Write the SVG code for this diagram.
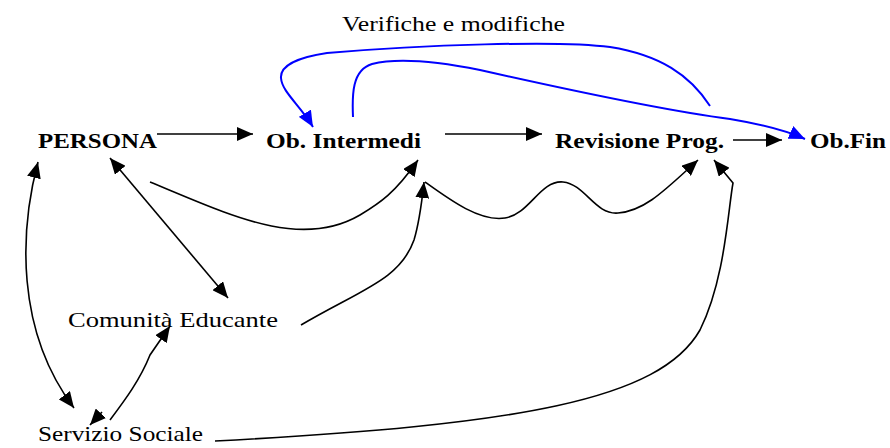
<svg xmlns="http://www.w3.org/2000/svg" width="890" height="448" viewBox="0 0 890 448">
<style>
.lbl{font-family:"Liberation Serif","Times New Roman",serif;font-size:21px;fill:#000}
.b{font-weight:bold;font-size:22px}
.c{fill:none;stroke:#000;stroke-width:1.6}
.blue{fill:none;stroke:#0000ff;stroke-width:2}
</style>
<defs>
<marker id="ah" markerUnits="userSpaceOnUse" markerWidth="17" markerHeight="14" refX="16" refY="7" orient="auto-start-reverse" viewBox="0 0 17 14">
<path d="M0,0 L16,7 L0,14 z" fill="#000"/>
</marker>
<marker id="ahb" markerUnits="userSpaceOnUse" markerWidth="17" markerHeight="14" refX="16" refY="7" orient="auto-start-reverse" viewBox="0 0 17 14">
<path d="M0,0 L16,7 L0,14 z" fill="#0000ff"/>
</marker>
</defs>
<rect width="890" height="448" fill="#fff"/>
<g id="connectors">
<path class="c" d="M157,134 L253,134" marker-end="url(#ah)"/>
<path class="c" d="M445,134 L542,134" marker-end="url(#ah)"/>
<path class="c" d="M733,140 L782,140" marker-end="url(#ah)"/>
<path class="c" d="M110,158 L228,298" marker-start="url(#ah)" marker-end="url(#ah)"/>
<path class="c" d="M150,182 C230,215 300,250 360,215 C380,203 395,193 418,160" marker-end="url(#ah)"/>
<path class="c" d="M301,325 C360,290 400,280 414,240 C420,220 422,200 424,182" marker-end="url(#ah)"/>
<path class="c" d="M425,182 C450,200 480,222 505,218 C530,214 540,180 563,182 C585,184 595,215 618,213 C645,211 665,190 698,160" marker-end="url(#ah)"/>
<path class="c" d="M215,441 C520,425 660,400 700,330 C725,280 728,210 733,183 L714,160" marker-end="url(#ah)"/>
<path class="c" d="M38,162 C20,230 15,330 74,408" marker-start="url(#ah)" marker-end="url(#ah)"/>
<path class="c" d="M90,425 L102,412 M110,420 C125,400 140,380 150,355 L170,326" marker-start="url(#ah)" marker-end="url(#ah)"/>
<path class="blue" d="M710,106 C690,75 660,55 610,47 C560,40 420,45 327,53 C300,57 280,65 281,78 C282,92 300,105 313,127" marker-end="url(#ahb)"/>
<path class="blue" d="M353,117 C352,95 352,70 372,64 C400,57 440,62 480,70 C560,88 660,110 730,119 C760,124 785,130 805,139" marker-end="url(#ahb)"/>
</g>
<g id="n-verifiche"><text class="lbl" x="342" y="31" textLength="223" lengthAdjust="spacingAndGlyphs">Verifiche e modifiche</text></g>
<g id="n-persona"><text class="lbl b" x="38" y="148" textLength="119" lengthAdjust="spacingAndGlyphs">PERSONA</text></g>
<g id="n-obint"><text class="lbl b" x="266" y="148" textLength="155" lengthAdjust="spacingAndGlyphs">Ob. Intermedi</text></g>
<g id="n-revisione"><text class="lbl b" x="555" y="148" textLength="169" lengthAdjust="spacingAndGlyphs">Revisione Prog.</text></g>
<g id="n-obfin"><text class="lbl b" x="810" y="148" textLength="76" lengthAdjust="spacingAndGlyphs">Ob.Fin</text></g>
<g id="n-comunita"><text class="lbl" x="68" y="327" textLength="210" lengthAdjust="spacingAndGlyphs">Comunità Educante</text></g>
<g id="n-servizio"><text class="lbl" x="38" y="441" textLength="165" lengthAdjust="spacingAndGlyphs">Servizio Sociale</text></g>
</svg>
